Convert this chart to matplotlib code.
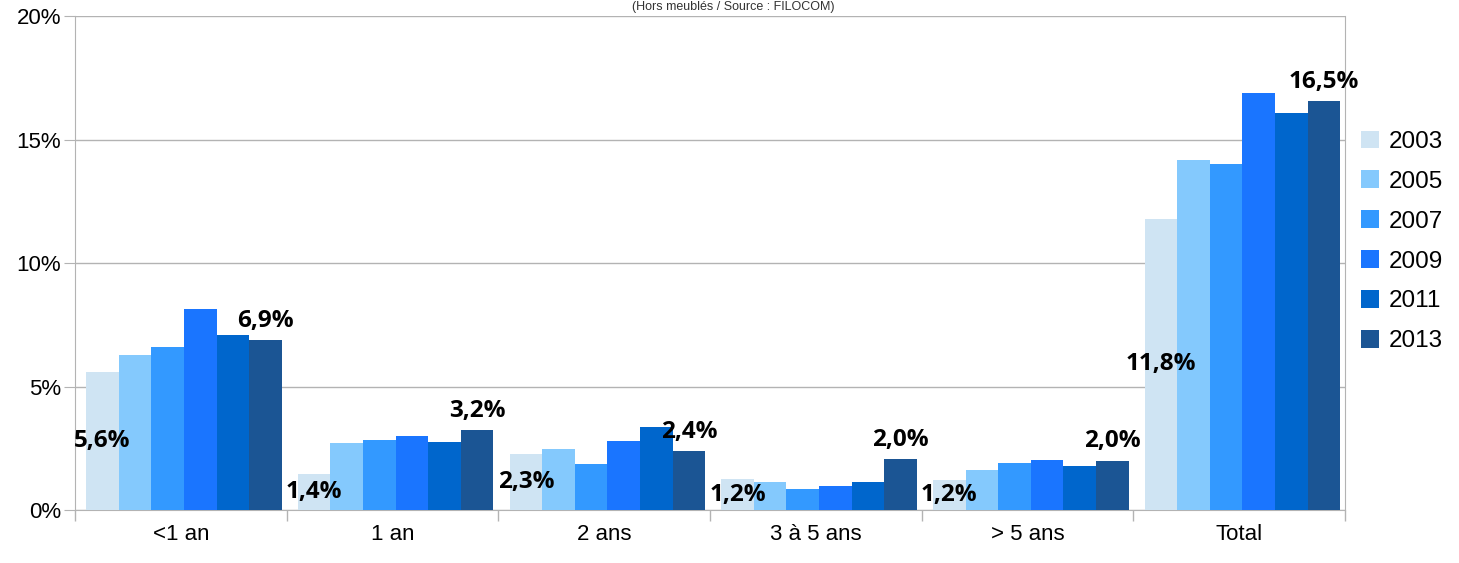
import matplotlib
matplotlib.use("Agg")
import matplotlib.pyplot as plt
import numpy as np

categories = ["<1 an", "1 an", "2 ans", "3 à 5 ans", "> 5 ans", "Total"]
years = ["2003", "2005", "2007", "2009", "2011", "2013"]
v2003 = [5.6, 1.45, 2.27, 1.25, 1.22, 11.8]
v2005 = [6.27, 2.71, 2.47, 1.13, 1.62, 14.17]
v2007 = [6.6, 2.83, 1.86, 0.85, 1.9, 14.0]
v2009 = [8.14, 3.0, 2.79, 0.97, 2.02, 16.88]
v2011 = [7.09, 2.75, 3.36, 1.13, 1.78, 16.07]
v2013 = [6.88, 3.24, 2.39, 2.06, 2.0, 16.56]
labels2003 = ["5,6%", "1,4%", "2,3%", "1,2%", "1,2%", "11,8%"]
labels2013 = ["6,9%", "3,2%", "2,4%", "2,0%", "2,0%", "16,5%"]
series = [v2003, v2005, v2007, v2009, v2011, v2013]
colors = ["#cfe4f3", "#84c9fd", "#3399ff", "#1a75ff", "#0066cc", "#1b5594"]

fig = plt.figure(figsize=(14.59, 5.63), dpi=100)
ax = fig.add_axes([0.0514, 0.094, 0.8705, 0.8776])

x = np.arange(len(categories))
n = len(series)
group_w = 0.924
bw = group_w / n
shift = 0.015
bars = []
for i, (vals, c, yr) in enumerate(zip(series, colors, years)):
    offs = -group_w / 2 + bw * (i + 0.5) + shift
    b = ax.bar(x + offs, vals, width=bw, color=c, label=yr, zorder=3, linewidth=0)
    bars.append(b)

lblfont = dict(family=["Open Sans", "DejaVu Sans"], fontsize=17.5, fontweight="bold", color="black")
for i in range(len(categories)):
    r = bars[0][i]
    ax.text(r.get_x() + r.get_width() / 2, v2003[i] / 2, labels2003[i], ha="center", va="center", zorder=5, **lblfont)
    r = bars[5][i]
    ax.text(r.get_x() + r.get_width() / 2, v2013[i] + 0.3, labels2013[i], ha="center", va="bottom", zorder=5, **lblfont)

ax.set_xlim(-0.5, len(categories) - 0.5)
ax.set_ylim(0, 20)
ax.set_yticks([0, 5, 10, 15, 20])
ax.set_yticklabels(["0%", "5%", "10%", "15%", "20%"])
ax.set_xticks(x)
ax.set_xticklabels(categories)
ax.set_xticks(np.arange(-0.5, len(categories)), minor=True)
ax.tick_params(axis="x", which="major", length=0, pad=10, labelsize=16)
ax.tick_params(axis="x", which="minor", length=8, color="#b3b3b3", width=1)
ax.tick_params(axis="y", length=8, color="#b3b3b3", labelsize=16, pad=2)
for lab in ax.get_xticklabels() + ax.get_yticklabels():
    lab.set_family(["Liberation Sans", "DejaVu Sans"])
ax.grid(axis="y", color="#b3b3b3", linewidth=1, zorder=0)
for s in ["top"]:
    ax.spines[s].set_visible(False)
ax.spines["left"].set_color("#b3b3b3")
ax.spines["right"].set_color("#b3b3b3")
ax.spines["bottom"].set_color("#b3b3b3")

leg = fig.legend(loc="upper left", bbox_to_anchor=(0.918, 0.807), frameon=False,
                 prop={"family": ["Liberation Sans", "DejaVu Sans"], "size": 17.5},
                 handlelength=0.75, handleheight=0.75, handletextpad=0.4, labelspacing=0.72)

fig.text(0.5025, 0.999, "(Hors meublés / Source : FILOCOM)", ha="center", va="top",
         fontsize=9, family=["Liberation Sans", "DejaVu Sans"], color="#333333")

fig.savefig("out.png", dpi=100)
